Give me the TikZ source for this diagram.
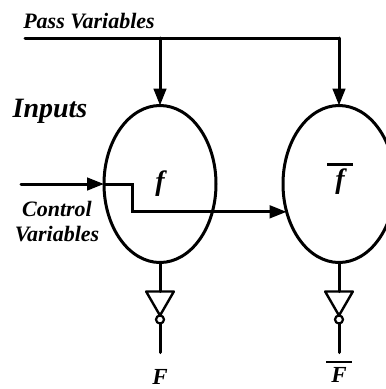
\documentclass[tikz,border=0pt]{standalone}
\usepackage{fontspec}
\setmainfont{Liberation Serif}
\usetikzlibrary{arrows.meta,positioning,calc,shapes.geometric}
\begin{document}
\begin{tikzpicture}[x=1pt,y=-1pt,
        block/.style={ellipse, draw=black, line width=3pt, minimum width=112pt, minimum height=157pt, inner sep=0pt, outer sep=0pt},
        wire/.style={line width=3pt, line cap=round},
        arrow/.style={wire, -{Triangle[length=17pt,width=12.5pt]}},
        buffer/.style={regular polygon, regular polygon sides=3, shape border rotate=180, draw=black, line width=2.4pt, line join=round, minimum size=32pt, inner sep=0pt, outer sep=0pt},
        bubble/.style={circle, draw=black, line width=2.2pt, minimum size=8pt, inner sep=0pt, outer sep=0pt},
        label/.style={font=\bfseries\itshape, inner sep=0pt, align=center},
        biglabel/.style={label, font=\bfseries\itshape\fontsize{23}{26}\selectfont},
        namelabel/.style={label, font=\bfseries\itshape\fontsize{28}{28}\selectfont},
        smalllabel/.style={label, font=\bfseries\itshape\fontsize{22}{25}\selectfont},
      ]
      \useasboundingbox (0,0) rectangle (386,389);
      \node [block] (fblock) at (160,184) {};
      \node [block] (gblock) at (339,184) {};
      \node [namelabel] (fname) at (160,184) {f};
      \node [namelabel] (gname) at (340,179) {\rule{26pt}{2.6pt}\\[-5pt]f};
      \node [buffer, below=29pt of fblock] (fbuf) {};
      \node [buffer, below=29pt of gblock] (gbuf) {};
      \node [bubble, below=0pt of fbuf] (fbub) {};
      \node [bubble, below=0pt of gbuf] (gbub) {};
      \coordinate [below=29pt of fbub] (fend);
      \coordinate [below=29pt of gbub] (gend);
      \node [biglabel, below=17pt of fend] (fout) {F};
      \node [biglabel, below=8pt of gend] (gout) {\rule{26pt}{2.6pt}\\[-7pt]F};
      \node [smalllabel] (pass) at (89,21) {Pass Variables};
      \node [label, font=\bfseries\itshape\fontsize{28}{30}\selectfont] (inputs) at (50,111) {Inputs};
      \node [smalllabel] (control) at (57,222) {Control\\Variables};
      \coordinate (passstart) at (25,38);
      \coordinate (inputstart) at (21,184);
      \coordinate (bend) at (132,184);
      \draw [wire] (passstart) -- (gblock |- passstart);
      \draw [arrow] (fblock |- passstart) -- (fblock.north);
      \draw [arrow] (gblock |- passstart) -- (gblock.north);
      \draw [arrow] (inputstart) -- (fblock.west);
      \draw [arrow] (fblock.west) -- (bend) |- (gblock.208);
      \draw [wire] (fblock.south) -- (fbuf.north);
      \draw [wire] (gblock.south) -- (gbuf.north);
      \draw [wire] (fbub.south) -- (fend);
      \draw [wire] (gbub.south) -- (gend);
    \end{tikzpicture}
\end{document}
